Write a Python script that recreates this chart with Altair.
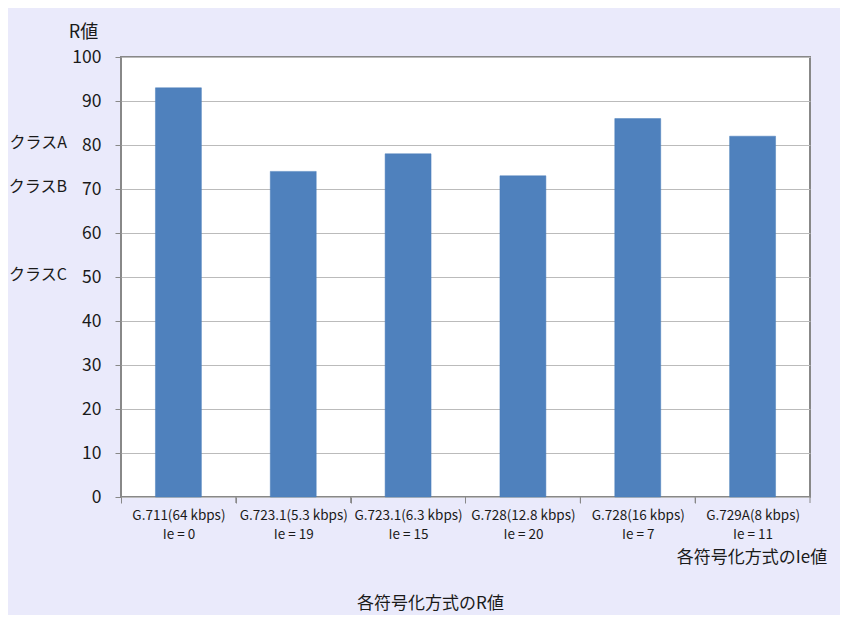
import altair as alt
import pandas as pd

codecs = ["G.711(64 kbps)", "G.723.1(5.3 kbps)", "G.723.1(6.3 kbps)",
          "G.728(12.8 kbps)", "G.728(16 kbps)", "G.729A(8 kbps)"]
ie_values = [0, 19, 15, 20, 7, 11]
r_values = [93, 74, 78, 73, 86, 82]

class_names = ["クラスA", "クラスB", "クラスC"]
class_levels = [80, 70, 50]

labels = [f"{c}|Ie = {ie}" for c, ie in zip(codecs, ie_values)]
df = pd.DataFrame({"label": labels, "R": r_values})
cls = pd.DataFrame({"name": class_names, "level": class_levels})
note = pd.DataFrame({"t": ["各符号化方式のIe値"]})

W, H = 689, 440
STEP = W / 6.0
JP = "Noto Sans CJK JP"

xscale = alt.Scale(paddingInner=0.6, paddingOuter=0.3)
yscale = alt.Scale(domain=[0, 100])

bars = alt.Chart(df).mark_bar(color="#4F81BD", stroke="#4A7EBB", strokeWidth=0.5).encode(
    x=alt.X("label:N", sort=None, scale=xscale,
            axis=alt.Axis(title="各符号化方式のR値", titleFont=JP, titleFontSize=17,
                          titleFontWeight="normal", titleColor="#1a1a1a",
                          titleX=309, titleY=106, titleBaseline="middle", titleAlign="center",
                          labelExpr="split(datum.label, '|')", labelAngle=0,
                          labelFont=JP, labelFontSize=13.5, labelColor="#1a1a1a",
                          labelLineHeight=19, labelPadding=5, labelBaseline="top",
                          tickOffset=-STEP / 2, labelOffset=STEP / 2,
                          ticks=True, tickSize=6, tickColor="#888", domain=False,
                          grid=False)),
    y=alt.Y("R:Q", scale=yscale,
            axis=alt.Axis(title="R値", titleAngle=0, titleX=-38, titleY=-25,
                          titleAlign="center", titleBaseline="middle",
                          titleFont=JP, titleFontSize=18, titleFontWeight="normal",
                          titleColor="#1a1a1a",
                          values=list(range(0, 101, 10)), labelFont=JP, labelFontSize=17.5,
                          labelColor="#1a1a1a", labelPadding=14,
                          tickSize=6, tickColor="#888", domain=False,
                          grid=True, gridColor="#BBBBBB", gridWidth=1.2)),
)

edge_ticks = alt.Chart(df).mark_rule(color="#888", xOffset=STEP / 2).encode(
    x=alt.X("label:N", sort=None, scale=xscale),
    y=alt.value(H), y2=alt.value(H + 6),
)

class_text = alt.Chart(cls).mark_text(align="right", baseline="middle", dy=-2,
                                      font=JP, fontSize=16, color="#1a1a1a").encode(
    x=alt.value(-54),
    y=alt.Y("level:Q", scale=yscale),
    text="name:N",
)

ie_text = alt.Chart(note).mark_text(align="center", baseline="middle",
                                    font=JP, fontSize=17, color="#1a1a1a").encode(
    x=alt.value(631), y=alt.value(501), text="t:N",
)

chart = alt.layer(bars, edge_ticks, class_text, ie_text).properties(
    width=W, height=H,
    background="#EAEAFB",
    padding={"left": 113, "top": 49, "right": 30, "bottom": 118},
    autosize=alt.AutoSizeParams(type="none"),
).configure_view(stroke="#888888", strokeWidth=2, fill="white")

chart.save("out.html", embed_options={"renderer": "svg", "actions": False})
